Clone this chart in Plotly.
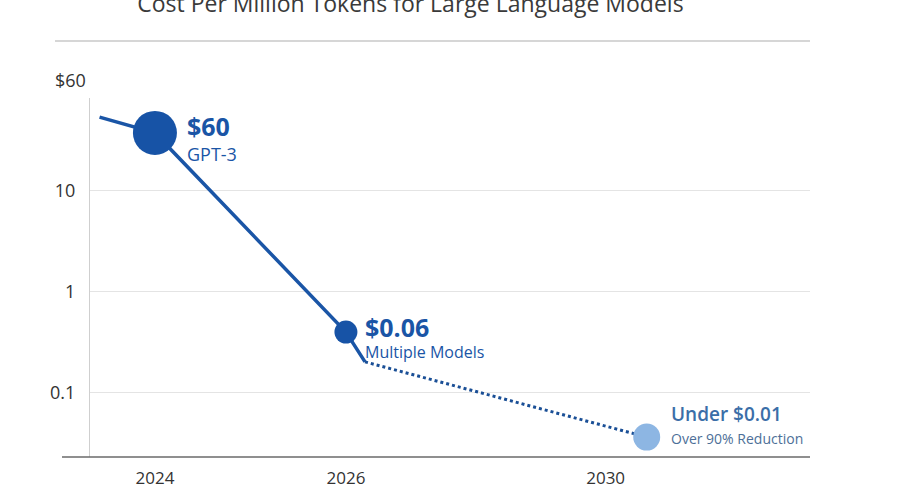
import math
import plotly.graph_objects as go

# ---- data ----
solid_x = [2023.42, 2024, 2026, 2026.2]
solid_y = [53.0, 37.0, 0.395, 0.2]
dotted_x = [2026.2, 2029.15]
dotted_y = [0.2, 0.036]

point_x = [2024, 2026, 2029.15]
point_y = [37.0, 0.395, 0.036]
point_sizes = [44, 23, 27]
point_colors = ["#1753a6", "#1753a6", "#8db6e3"]
main_labels = ["$60", "$0.06", "Under $0.01"]
sub_labels = ["GPT-3", "Multiple Models", "Over 90% Reduction"]

x_tickvals = [2024, 2026, 2028.72]
x_ticktext = ["2024", "2026", "2030"]
y_tickvals = [10, 1, 0.1]
y_ticktext = ["10", "1", "0.1"]
top_label = "$60"

title = "Cost Per Million Tokens for Large Language Models"

FONT = "Open Sans"
BLUE = "#1a55a6"

fig = go.Figure()
fig.add_trace(go.Scatter(x=solid_x, y=solid_y, mode="lines",
                         line=dict(color=BLUE, width=3.5), hoverinfo="skip"))
fig.add_trace(go.Scatter(x=dotted_x, y=dotted_y, mode="lines",
                         line=dict(color="#1a4f96", width=3, dash="dot"), hoverinfo="skip"))
fig.add_trace(go.Scatter(x=point_x, y=point_y, mode="markers",
                         marker=dict(size=point_sizes, color=point_colors, opacity=1,
                                     line=dict(width=0)),
                         cliponaxis=False))

label_styles = [
    dict(base=19.2, main_size=25, main_color="#1a55a6", main_weight="bold",
         sub_size=18, sub_color="#1a55a6", shift=(30, -4.5)),
    dict(base=16, main_size=25, main_color="#1a55a6", main_weight="bold",
         sub_size=16, sub_color="#1a55a6", shift=(17, -4)),
    dict(base=17.7, main_size=19, main_color="#3b6ea8", main_weight="600",
         sub_size=14, sub_color="#4d6f98", shift=(22, 13)),
]
anns = []
for i in range(3):
    st = label_styles[i]
    text = (f"<span style='font-size:{st['main_size']}px;font-weight:{st['main_weight']};"
            f"color:{st['main_color']}'>{main_labels[i]}</span><br>"
            f"<span style='font-size:{st['sub_size']}px;color:{st['sub_color']}'>{sub_labels[i]}</span>")
    anns.append(dict(x=point_x[i], y=math.log10(point_y[i]), xref="x", yref="y",
                     text=text, showarrow=False, xanchor="left", yanchor="middle", align="left",
                     xshift=st["shift"][0], yshift=st["shift"][1],
                     font=dict(family=FONT, size=st["base"], color=st["main_color"])))

anns.append(dict(x=0, y=1.05, xref="paper", yref="paper", text=top_label, showarrow=False,
                 xanchor="right", yanchor="middle", xshift=-2,
                 font=dict(family=FONT, size=18, color="#333333")))

fig.update_layout(
    width=900, height=500,
    margin=dict(l=90, r=90, t=98, b=43),
    paper_bgcolor="white", plot_bgcolor="white",
    showlegend=False,
    title=dict(text=title, x=0.456, xanchor="center", y=0.993, yanchor="middle",
               xref="container", yref="container",
               font=dict(family=FONT, size=23, color="#3a3a3a")),
    xaxis=dict(range=[2023.32, 2030.86], tickvals=x_tickvals, ticktext=x_ticktext,
               showgrid=False, zeroline=False, showline=False, ticks="",
               ticklabelstandoff=9,
               tickfont=dict(family=FONT, size=17, color="#333333")),
    yaxis=dict(type="log", range=[-1.641, 1.914], tickvals=y_tickvals, ticktext=y_ticktext,
               showgrid=True, gridcolor="#e4e4e4", gridwidth=1, zeroline=False,
               showline=True, linecolor="#cfcfcf", linewidth=1, ticks="",
               ticklabelstandoff=10,
               tickfont=dict(family=FONT, size=18, color="#333333")),
    annotations=anns,
    shapes=[
        dict(type="line", xref="paper", yref="paper", x0=-0.0389, x1=1, y0=0, y1=0,
             line=dict(color="#6a6a6a", width=1.5)),
        dict(type="line", xref="paper", yref="paper", x0=-0.0486, x1=1, y0=1.1588, y1=1.1588,
             line=dict(color="#c8c8c8", width=1.5)),
    ],
)

fig.write_html("out.html")
